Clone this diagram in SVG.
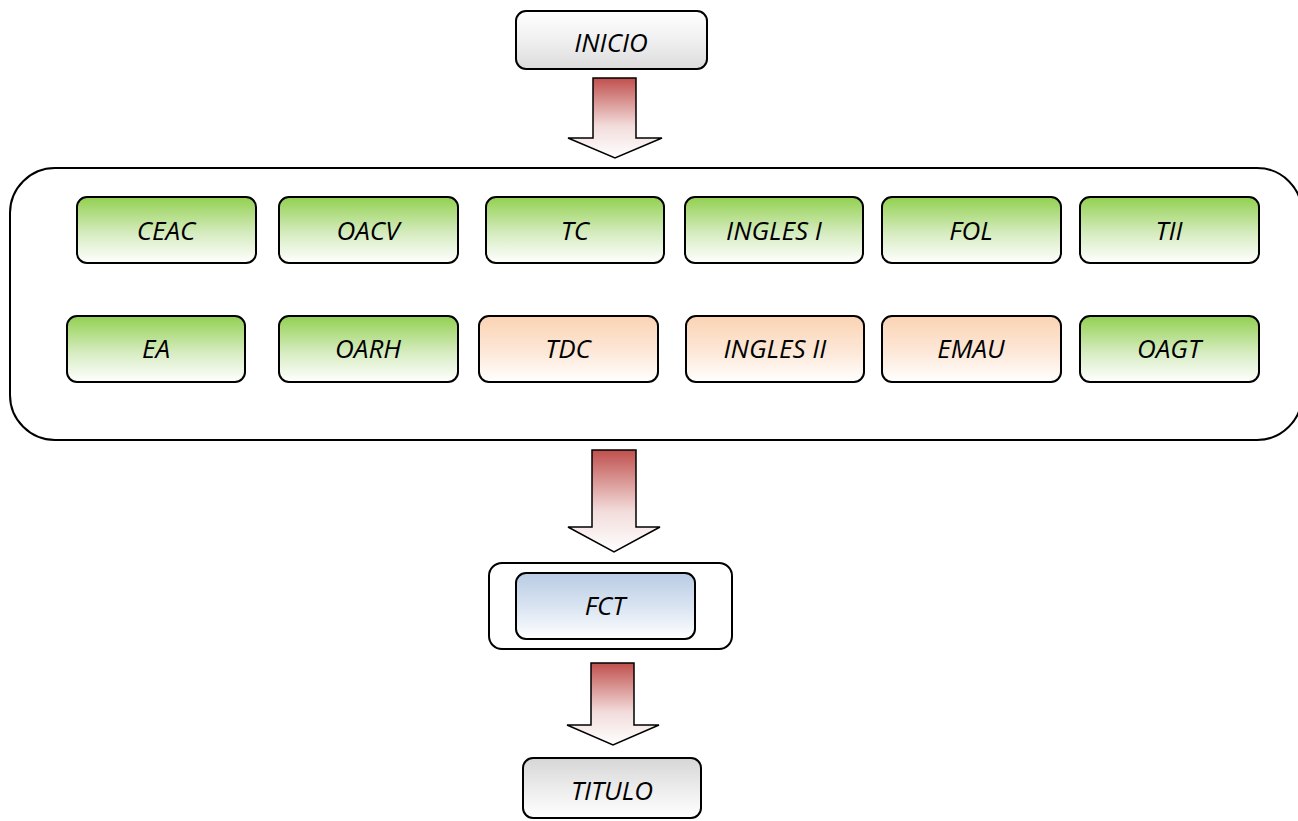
<svg xmlns="http://www.w3.org/2000/svg" width="1298" height="821" viewBox="0 0 1298 821">
<defs>
<linearGradient id="gGreen" x1="0" y1="0" x2="0" y2="1"><stop offset="0" stop-color="#92d050"/><stop offset="0.55" stop-color="#d6ecc0"/><stop offset="1" stop-color="#ffffff"/></linearGradient>
<linearGradient id="gOrange" x1="0" y1="0" x2="0" y2="1"><stop offset="0" stop-color="#fbd3b3"/><stop offset="0.55" stop-color="#fde8d8"/><stop offset="1" stop-color="#ffffff"/></linearGradient>
<linearGradient id="gBlue" x1="0" y1="0" x2="0" y2="1"><stop offset="0" stop-color="#b8cce4"/><stop offset="0.55" stop-color="#dce6f2"/><stop offset="1" stop-color="#ffffff"/></linearGradient>
<linearGradient id="gGrayUp" x1="0" y1="0" x2="0" y2="1"><stop offset="0" stop-color="#ffffff"/><stop offset="0.5" stop-color="#f0f0f0"/><stop offset="1" stop-color="#dcdcdc"/></linearGradient>
<linearGradient id="gGrayDown" x1="0" y1="0" x2="0" y2="1"><stop offset="0" stop-color="#d6d6d6"/><stop offset="0.5" stop-color="#ececec"/><stop offset="1" stop-color="#ffffff"/></linearGradient>
<linearGradient id="gArrow" x1="0" y1="0" x2="0" y2="1"><stop offset="0" stop-color="#c0504d"/><stop offset="0.6" stop-color="#f2dcdb"/><stop offset="1" stop-color="#ffffff"/></linearGradient>
<style>
.n{stroke:#000;stroke-width:2}
.t{font-family:"Open Sans","Liberation Sans",sans-serif;font-style:italic;font-size:26px;fill:#000;text-anchor:middle}
.arr{fill:url(#gArrow);stroke:#000;stroke-width:1.5;stroke-linejoin:miter}
</style>
</defs>

<g id="container">
<rect x="10" y="168" width="1292" height="272" rx="45" fill="#fff" stroke="#000" stroke-width="2"/>
</g>

<g id="connectors">
<path class="arr" d="M593,78 H636 V138 H662 L615,158 L568,138 H593 Z"/>
<path class="arr" d="M592,450 H636 V527 H660 L614,552 L568,527 H592 Z"/>
<path class="arr" d="M591,663 H634 V725 H659 L613,745 L567,725 H591 Z"/>
</g>

<g id="inicio"><rect class="n" x="516" y="11" width="191" height="58" rx="10" fill="url(#gGrayUp)"/><text class="t" x="611" y="52">INICIO</text></g>

<g id="ceac"><rect class="n" x="77" y="197" width="179" height="66" rx="10" fill="url(#gGreen)"/><text class="t" x="166" y="240">CEAC</text></g>
<g id="oacv"><rect class="n" x="279" y="197" width="179" height="66" rx="10" fill="url(#gGreen)"/><text class="t" x="368" y="240">OACV</text></g>
<g id="tc"><rect class="n" x="486" y="197" width="178" height="66" rx="10" fill="url(#gGreen)"/><text class="t" x="575" y="240">TC</text></g>
<g id="ingles1"><rect class="n" x="685" y="197" width="178" height="66" rx="10" fill="url(#gGreen)"/><text class="t" x="774" y="240">INGLES I</text></g>
<g id="fol"><rect class="n" x="882" y="197" width="179" height="66" rx="10" fill="url(#gGreen)"/><text class="t" x="971" y="240">FOL</text></g>
<g id="tii"><rect class="n" x="1080" y="197" width="179" height="66" rx="10" fill="url(#gGreen)"/><text class="t" x="1169" y="240">TII</text></g>

<g id="ea"><rect class="n" x="67" y="316" width="178" height="66" rx="10" fill="url(#gGreen)"/><text class="t" x="156" y="358">EA</text></g>
<g id="oarh"><rect class="n" x="279" y="316" width="179" height="66" rx="10" fill="url(#gGreen)"/><text class="t" x="368" y="358">OARH</text></g>
<g id="tdc"><rect class="n" x="479" y="316" width="179" height="66" rx="10" fill="url(#gOrange)"/><text class="t" x="568" y="358">TDC</text></g>
<g id="ingles2"><rect class="n" x="686" y="316" width="178" height="66" rx="10" fill="url(#gOrange)"/><text class="t" x="775" y="358">INGLES II</text></g>
<g id="emau"><rect class="n" x="882" y="316" width="179" height="66" rx="10" fill="url(#gOrange)"/><text class="t" x="971" y="358">EMAU</text></g>
<g id="oagt"><rect class="n" x="1080" y="316" width="179" height="66" rx="10" fill="url(#gGreen)"/><text class="t" x="1169" y="358">OAGT</text></g>

<g id="fct-group"><rect x="489" y="563" width="243" height="86" rx="13" fill="#fff" stroke="#000" stroke-width="2"/></g>
<g id="fct"><rect class="n" x="516" y="573" width="179" height="66" rx="10" fill="url(#gBlue)"/><text class="t" x="605" y="615">FCT</text></g>

<g id="titulo"><rect class="n" x="523" y="758" width="178" height="60" rx="10" fill="url(#gGrayDown)"/><text class="t" x="612" y="800">TITULO</text></g>
</svg>
